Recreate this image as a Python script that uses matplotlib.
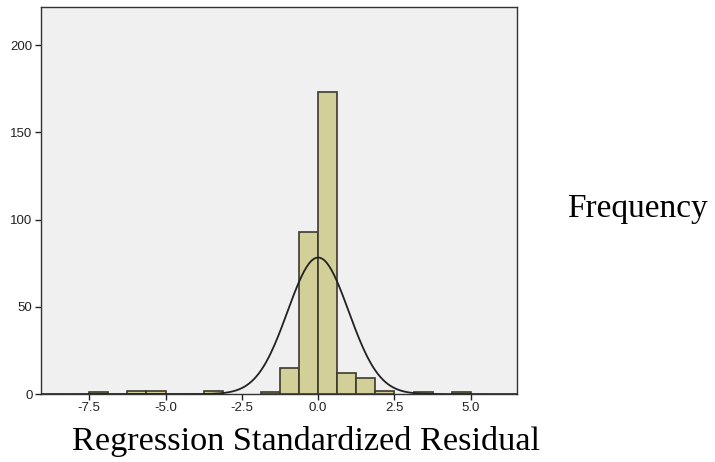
import numpy as np
import matplotlib
matplotlib.use("Agg")
import matplotlib.pyplot as plt

# histogram of standardized residuals (bin width 0.625)
bin_left = [-7.5, -6.25, -5.625, -3.75, -1.875, -1.25, -0.625, 0.0, 0.625, 1.25, 1.875, 3.125, 4.375]
counts = [1, 2, 2, 2, 1, 15, 93, 173, 12, 9, 2, 1, 1]
bin_width = 0.625

# normal curve parameters
resid_mean = 0.0
resid_std = 1.0

x_ticks = [-7.5, -5.0, -2.5, 0.0, 2.5, 5.0]
y_ticks = [0, 50, 100, 150, 200]

fig = plt.figure(figsize=(7.15, 4.62), dpi=100)
ax = fig.add_axes([0.0573, 0.147, 0.666, 0.838])
ax.set_facecolor("#f0f0f0")

ax.bar(bin_left, counts, width=bin_width, align="edge",
       color="#d3cf98", edgecolor="#3b3a2c", linewidth=1.2, zorder=2)

n_total = sum(counts)
xs = np.linspace(-9.1, 6.5, 400)
ys = n_total * bin_width / (resid_std * np.sqrt(2 * np.pi)) * np.exp(-0.5 * ((xs - resid_mean) / resid_std) ** 2)
ax.plot(xs, ys, color="#222222", linewidth=1.3, zorder=3)

ax.set_xlim(-9.08, 6.52)
ax.set_ylim(0, 222)
ax.set_xticks(x_ticks)
ax.set_xticklabels(["%.1f" % t for t in x_ticks])
ax.set_yticks(y_ticks)
ax.tick_params(direction="out", length=4, width=1, color="#222222",
               labelsize=9.5, labelcolor="#222222", pad=2)
for lab in ax.get_xticklabels() + ax.get_yticklabels():
    lab.set_fontfamily("Liberation Sans")
for s in ax.spines.values():
    s.set_color("#333333")
    s.set_linewidth(1)

fig.text(0.428, 0.045, "Regression Standardized Residual",
         family="Liberation Serif", fontsize=24.7, ha="center", va="center")
fig.text(0.891, 0.549, "Frequency", family="Liberation Serif",
         fontsize=24, ha="center", va="center")

fig.savefig("out.png", dpi=100)
